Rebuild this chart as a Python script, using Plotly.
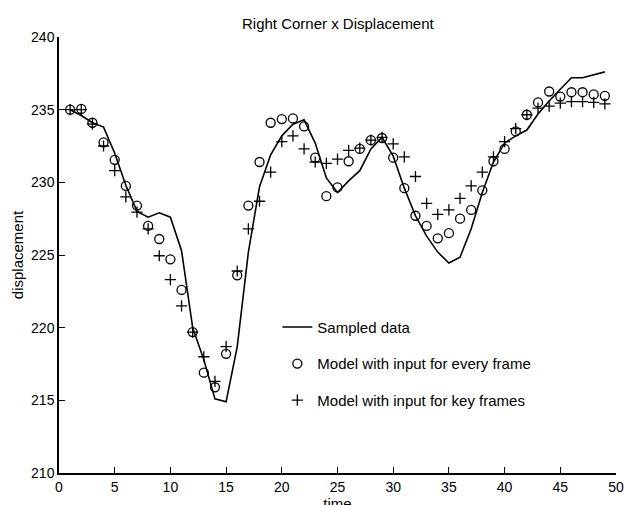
import plotly.graph_objects as go

time = list(range(1, 50))

sampled = [235.0, 234.6, 234.1, 233.8, 232.0, 229.8, 228.0, 227.6, 227.9, 227.6,
           225.3, 220.0, 217.8, 215.1, 214.9, 218.7, 225.2, 229.7, 231.9, 233.2,
           234.0, 234.3, 232.7, 230.3, 229.3, 230.1, 230.8, 232.3, 233.1, 231.8,
           229.6, 227.7, 226.3, 225.2, 224.45, 224.85, 226.8, 229.3, 231.4, 232.7,
           233.2, 233.6, 234.7, 235.6, 236.4, 237.2, 237.2, 237.4, 237.6]

every_frame = [235.0, 235.05, 234.1, 232.75, 231.55, 229.75, 228.4, 227.0, 226.1, 224.7,
               222.6, 219.7, 216.9, 215.9, 218.2, 223.6, 228.4, 231.4, 234.1, 234.35,
               234.4, 233.85, 231.7, 229.05, 229.65, 231.45, 232.3, 232.9, 233.05, 231.7,
               229.6, 227.7, 227.0, 226.15, 226.5, 227.5, 228.1, 229.45, 231.45, 232.3,
               233.5, 234.65, 235.5, 236.25, 235.9, 236.2, 236.2, 236.05, 235.95]

key_frames = [235.0, 235.0, 234.0, 232.5, 230.8, 229.0, 227.95, 226.8, 224.95, 223.3,
              221.5, 219.7, 218.0, 216.3, 218.7, 223.9, 226.8, 228.7, 230.7, 232.8,
              233.2, 232.3, 231.4, 231.3, 231.6, 232.2, 232.35, 232.9, 233.1, 232.65,
              231.75, 230.4, 228.55, 227.8, 228.1, 228.9, 229.75, 230.7, 231.75, 232.8,
              233.7, 234.65, 235.1, 235.25, 235.45, 235.55, 235.55, 235.5, 235.4]

x_ticks = [0, 5, 10, 15, 20, 25, 30, 35, 40, 45, 50]
y_ticks = [210, 215, 220, 225, 230, 235, 240]

FONT = "Liberation Sans, Arial, Helvetica, sans-serif"

fig = go.Figure()
fig.add_trace(go.Scatter(
    x=time, y=sampled, mode="lines", name="Sampled data",
    line=dict(color="black", width=1.6), legendgroup="a"))
fig.add_trace(go.Scatter(
    x=time, y=every_frame, mode="markers", name="Model with input for every frame",
    marker=dict(symbol="circle-open", size=9, color="black", line=dict(width=1.3, color="black")),
    legendgroup="b"))
fig.add_trace(go.Scatter(
    x=time, y=key_frames, mode="markers", name="Model with input for key frames",
    marker=dict(symbol="cross-thin-open", size=8, color="black", line=dict(width=1.3, color="black")),
    legendgroup="c"))

# Figure is slightly taller than the 505px window so that the "time" label is
# clipped at the bottom edge just like in the reference.
H = 515
fig.update_layout(
    width=628, height=H,
    margin=dict(l=59, r=12, t=37, b=H - 37 - 436, pad=0),
    paper_bgcolor="white", plot_bgcolor="white",
    font=dict(family=FONT, size=14, color="black"),
    title=dict(text="Right Corner x Displacement", x=0.538, xanchor="center",
               y=1 - 24 / H, yanchor="middle", font=dict(size=15, family=FONT)),
    showlegend=True,
    legend=dict(x=0.392, xanchor="left", y=0.372, yanchor="top",
                font=dict(size=15, family=FONT), bgcolor="rgba(0,0,0,0)",
                tracegroupgap=14, traceorder="grouped", itemwidth=30),
    xaxis=dict(range=[0, 50], tickvals=x_ticks, ticktext=[str(v) for v in x_ticks],
               showgrid=False, zeroline=False, showline=True, linecolor="black", linewidth=1.5,
               ticks="inside", ticklen=6, tickwidth=1.2, tickcolor="black",
               tickfont=dict(size=14), mirror=False,
               title=dict(text="time", standoff=2, font=dict(size=15)), automargin=False),
    yaxis=dict(range=[210, 240], tickvals=y_ticks, ticktext=[str(v) for v in y_ticks],
               showgrid=False, zeroline=False, showline=True, linecolor="black", linewidth=1.5,
               ticks="inside", ticklen=6, tickwidth=1.2, tickcolor="black",
               tickfont=dict(size=14), mirror=False,
               title=dict(text="displacement", standoff=4, font=dict(size=15)), automargin=False),
)

fig.write_html("out.html", config={"displayModeBar": False},
               post_script="document.body.style.margin='0';document.body.style.overflow='hidden';")
